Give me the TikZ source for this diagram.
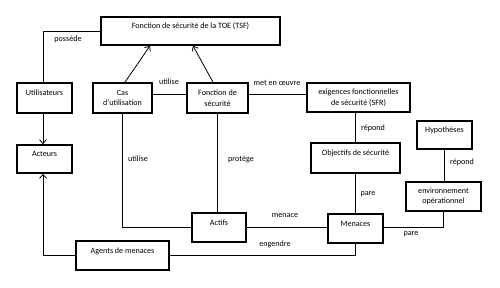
\documentclass[tikz,border=0pt]{standalone}
\usepackage{fontspec}
\setmainfont{Carlito}
\usetikzlibrary{arrows.meta}
\begin{document}
\begin{tikzpicture}[x=1pt,y=-1pt,
  box/.style={draw=black,line width=1.6pt,rectangle,inner sep=0pt,align=center,font=\fontsize{8.1}{10.5}\selectfont},
  oneline/.style={text height=5.5pt,text depth=10pt},
  conn/.style={draw=black,line width=0.8pt},
  arr/.style={conn,-{Straight Barb[length=4pt,width=7pt]}},
  lbl/.style={font=\fontsize{8.1}{9}\selectfont,inner sep=0pt}]
\useasboundingbox (0,0) rectangle (500,287);
\fill[white] (0,0) rectangle (500,287);
% boxes
\node[box,oneline,minimum width=179pt,minimum height=28pt] (tsf) at (190.5,31) {Fonction de sécurité de la TOE (TSF)};
\node[box,oneline,minimum width=55pt,minimum height=30pt] (util) at (44.5,98) {Utilisateurs};
\node[box,minimum width=59pt,minimum height=30pt] (cas) at (122.5,98) {Cas\\d’utilisation};
\node[box,minimum width=61pt,minimum height=30pt] (fonc) at (217.5,98) {Fonction de\\sécurité};
\node[box,minimum width=103pt,minimum height=29pt] (sfr) at (358.5,97.5) {exigences fonctionnelles\\de sécurité (SFR)};
\node[box,oneline,minimum width=55pt,minimum height=28pt] (hyp) at (444.5,135) {Hypothèses};
\node[box,oneline,minimum width=55pt,minimum height=28pt] (act) at (44.5,159) {Acteurs};
\node[box,oneline,minimum width=89pt,minimum height=30pt] (obj) at (355.5,158) {Objectifs de sécurité};
\node[box,minimum width=75pt,minimum height=29pt] (env) at (443.5,196.5) {environnement\\opérationnel};
\node[box,oneline,minimum width=54pt,minimum height=29pt] (actifs) at (219,227.5) {Actifs};
\node[box,oneline,minimum width=55pt,minimum height=29pt] (men) at (355.5,228.5) {Menaces};
\node[box,oneline,minimum width=93pt,minimum height=29pt] (agents) at (122.5,255.5) {Agents de menaces};
% connectors
\draw[conn] (tsf.west) -| ([xshift=-1.5pt]util.north);
\draw[arr] ([xshift=-1.5pt]util.south) -- ([xshift=-1.5pt]act.north);
\draw[arr] (agents.west) -| ([xshift=-1.5pt]act.south);
\draw[arr] ([xshift=2.5pt]cas.north) -- ([xshift=-40.5pt]tsf.south);
\draw[arr] ([xshift=-4.5pt]fonc.north) -- ([xshift=2.5pt]tsf.south);
\draw[conn] ([yshift=4pt]cas.east) -- ([yshift=4pt]fonc.west);
\draw[conn] ([yshift=4pt]fonc.west -| fonc.east) -- ([yshift=4pt]fonc.west -| sfr.west);
\draw[conn] (cas.south) |- (actifs.west);
\draw[conn] (fonc.south) -- (fonc.south |- actifs.north);
\draw[conn] (actifs.east) -- (actifs.east -| men.west);
\draw[conn] (agents.east) -| (men.south);
\draw[conn] (men.north) -- (men.north |- obj.south);
\draw[conn] (obj.north) -- (obj.north |- sfr.south);
\draw[conn] (hyp.south) -- (hyp.south |- env.north);
\draw[conn] (env.south) |- ([yshift=1.5pt]men.east);
% labels
\node[lbl] (l1) at (68,39) {possède};
\node[lbl] (l2) at (169,82) {utilise};
\node[lbl] (l3) at (277,83) {met en œuvre};
\node[lbl] (l4) at (373,128) {répond};
\node[lbl] (l5) at (462,162) {répond};
\node[lbl] (l6) at (138,159) {utilise};
\node[lbl] (l7) at (241,159) {protège};
\node[lbl] (l8) at (368,194) {pare};
\node[lbl] (l9) at (285,216) {menace};
\node[lbl] (l10) at (275,244) {engendre};
\node[lbl] (l11) at (411,234) {pare};
\end{tikzpicture}
\end{document}
